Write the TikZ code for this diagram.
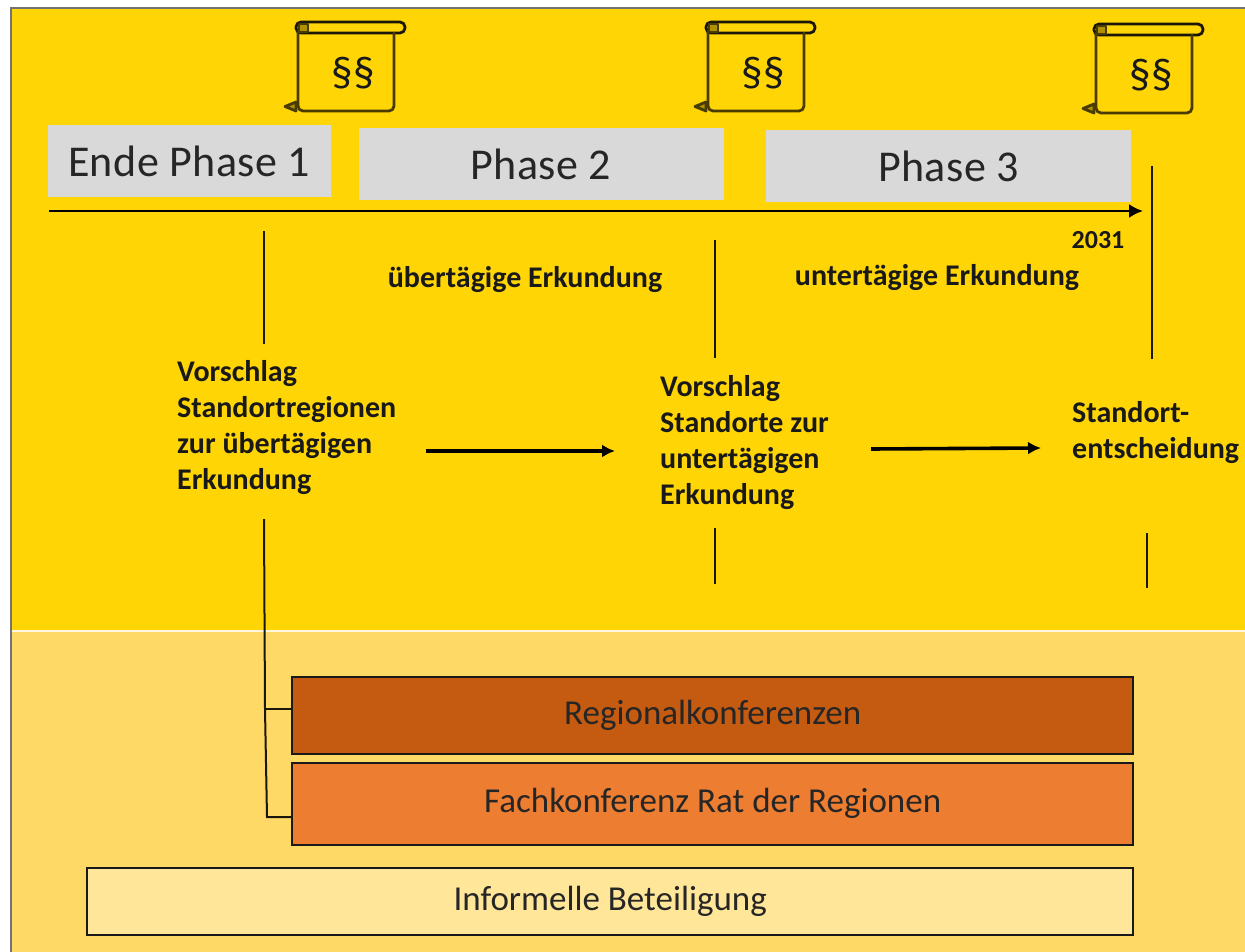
\documentclass[tikz,border=0pt]{standalone}
\usepackage{fontspec}
\setmainfont{Carlito}
\usetikzlibrary{arrows.meta}
\definecolor{topyellow}{HTML}{FFD505}
\definecolor{lowyellow}{HTML}{FFD966}
\definecolor{phasegrey}{HTML}{D9D9D9}
\definecolor{regional}{HTML}{C55A11}
\definecolor{fach}{HTML}{ED7D31}
\definecolor{informal}{HTML}{FFE699}
\definecolor{inkline}{HTML}{1A1608}
\definecolor{scrollink}{HTML}{4A3C00}
\tikzset{
  x=1pt,y=-1pt,
  phasebox/.style={fill=phasegrey,draw=none,inner sep=0pt,text=black!85,font=\fontsize{44}{46}\selectfont\addfontfeature{LetterSpace=1}},
  phasetext/.style={inner sep=0pt,text=black!85,font=\fontsize{44}{46}\selectfont\addfontfeature{LetterSpace=1}},
  barbox/.style={draw=black!90,line width=2.4pt,inner sep=0pt,text=black!85,font=\fontsize{35}{40}\selectfont},
  boldlabel/.style={font=\fontsize{30}{36}\selectfont\bfseries,text=black!90,inner sep=0pt,align=left},
  thinline/.style={draw=inkline,line width=2pt},
  flowarrow/.style={draw=black,line width=3.6pt,-{Latex[length=13pt,width=13pt]}},
  scrollline/.style={draw=scrollink,line width=2.8pt,line join=round,line cap=round},
}
\newcommand{\lawscroll}[3]{%
  \begin{scope}[shift={(#1,#2)}]
    \draw[scrollline,draw=inkline,rounded corners=5] (-2,0) rectangle (107,11);
    \draw[scrollline,rounded corners=5] (0,9) -- (0,89) -- (96,89) -- (96,11);
    \draw[scrollline,fill=scrollink!45!topyellow] (-2,80) -- (-13,84.5) -- (-2,89) -- cycle;
    \draw[scrollline,fill=scrollink!45!topyellow] (1,2) -- (10,2) -- (10,10) -- (1,10) -- cycle;
    \node[inner sep=0pt,font=\fontsize{43}{45}\selectfont,text=black!90] (#3) at (55,51) {§§};
  \end{scope}}
\begin{document}
\begin{tikzpicture}
\useasboundingbox (0,0) rectangle (1245,952);
\fill[white] (0,0) rectangle (1245,952);
\fill[topyellow] (11,9) rectangle (1245,631);
\fill[lowyellow] (11,631) rectangle (1245,952);
\draw[draw=white!80!lowyellow,line width=1.5pt] (11,631) -- (1245,631);
\draw[draw=black!55,line width=2pt] (11,952) -- (11,8.5) -- (1245,8.5);

\lawscroll{298}{22}{lawa}
\lawscroll{708}{22}{lawb}
\lawscroll{1096}{24}{lawc}

\node[phasebox,minimum width=283,minimum height=72] (p1) at (189,161) {\raisebox{-2pt}{Ende Phase 1}};
\node[phasebox,minimum width=365,minimum height=72] (p2) at (541,164) {\raisebox{-1pt}{Phase 2}};
\node[phasebox,minimum width=365,minimum height=72] (p3) at (948.5,166.5) {\raisebox{-1pt}{Phase 3}};

\coordinate (axisstart) at (49,211);
\coordinate (axisend) at (1143,211);
\draw[draw=black,line width=2.4pt,-{Latex[length=14pt,width=14pt]}] (axisstart) -- (axisend);

\node[font=\fontsize{26}{28}\selectfont\bfseries,text=black!90,inner sep=0pt] (year) at (1098,240) {2031};
\node[boldlabel] (ob) at (525,280) {übertägige Erkundung};
\node[boldlabel] (un) at (937,278) {untertägige Erkundung};

\node[boldlabel,anchor=north west] (va) at (177,360) {Vorschlag\\Standortregionen\\zur übertägigen\\Erkundung};
\node[boldlabel,anchor=north west] (vb) at (660,375) {Vorschlag\\Standorte zur\\untertägigen\\Erkundung};
\node[boldlabel,anchor=north west] (vc) at (1072,401) {Standort-\\entscheidung};

\coordinate (a1) at (264,231); \coordinate (a2) at (264,344);
\coordinate (b1) at (715,240); \coordinate (b2) at (715,358);
\coordinate (c1) at (1152,166); \coordinate (c2) at (1152,359);
\coordinate (b3) at (715,528); \coordinate (b4) at (715,584);
\coordinate (c3) at (1147,533); \coordinate (c4) at (1147,588);
\draw[thinline] (a1) -- (a2);
\draw[thinline] (b1) -- (b2);
\draw[thinline] (c1) -- (c2);
\draw[thinline] (b3) -- (b4);
\draw[thinline] (c3) -- (c4);

\coordinate (f1s) at (426,451); \coordinate (f1e) at (615,451);
\coordinate (f2s) at (871,449); \coordinate (f2e) at (1041,448);
\draw[flowarrow] (f1s) -- (f1e);
\draw[flowarrow] (f2s) -- (f2e);

\node[barbox,fill=regional,minimum width=841,minimum height=77,anchor=north west] (rk) at (291,676) {\raisebox{-1pt}{Regionalkonferenzen}};
\node[barbox,fill=fach,minimum width=841,minimum height=82,anchor=north west] (fk) at (291,761.5) {\raisebox{-1pt}{Fachkonferenz Rat der Regionen}};
\node[barbox,fill=informal,minimum width=1046,minimum height=67,anchor=north west] (ib) at (86,866.5) {Informelle Beteiligung};

\coordinate (trunktop) at (264,519);
\coordinate (trunkmid) at (265,709);
\coordinate (trunkbot) at (267,817);
\draw[thinline] (trunktop) -- (trunkmid) -- (trunkbot) -- (trunkbot -| rk.west);
\draw[thinline] (trunkmid) -- (trunkmid -| rk.west);
\end{tikzpicture}
\end{document}
